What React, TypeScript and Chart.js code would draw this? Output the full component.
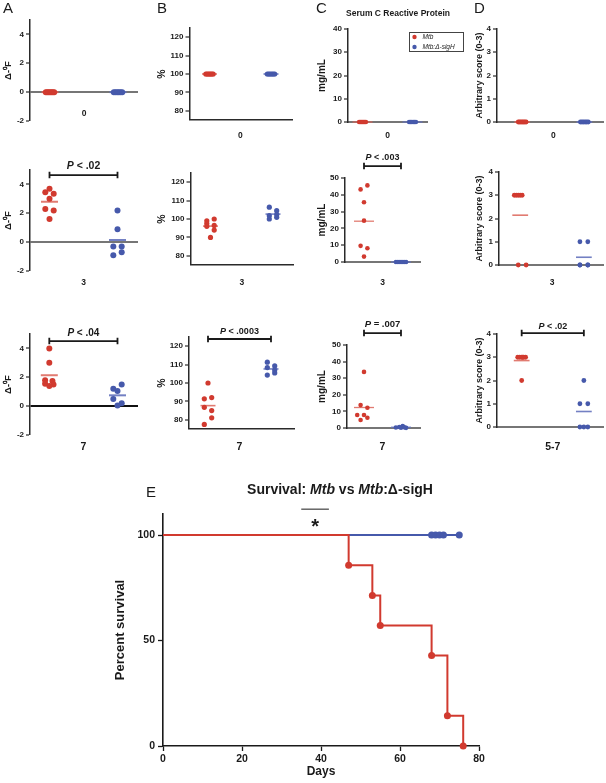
import React, { useEffect, useRef } from 'react';
import { Chart, registerables } from 'chart.js';

Chart.register(...registerables);

const FONT = '"Liberation Sans", Arial, Helvetica, sans-serif';
Chart.defaults.font.family = FONT;

const RED = '#d13a2f';
const BLUE = '#4659ab';
const RED_MEAN = 'rgba(220,100,88,0.85)';
const BLUE_MEAN = 'rgba(100,114,188,0.9)';
const INK = '#1a1a1a';
const AXIS = '#2a2a2a';
const BASE_GRAY = '#767676';

// ---------------- data ----------------
const groupNames = ['Mtb', 'Mtb:Δ-sigH'];
const dayLabels = ['0', '3', '7', '5-7'];

// A: change in body temperature (Δ°F)
const tempDay0Mtb = [0, 0, 0, 0, 0, 0, 0];
const tempDay0SigH = [0, 0, 0, 0, 0, 0];
const tempDay3Mtb = [3.7, 3.45, 3.35, 3.0, 2.3, 2.2, 1.6];
const tempDay3SigH = [2.2, 0.9, -0.3, -0.3, -0.7, -0.9];
const tempDay7Mtb = [4.0, 3.0, 1.8, 1.75, 1.55, 1.5, 1.4];
const tempDay7SigH = [1.5, 1.2, 1.05, 0.5, 0.2, 0.05];
const tempTicks = [-2, 0, 2, 4];

// B: body weight (%)
const wtDay0Mtb = [100, 100, 100, 100, 100, 100, 100];
const wtDay0SigH = [100, 100, 100, 100, 100, 100];
const wtDay3Mtb = [99, 100, 97.5, 96.5, 96, 94, 90];
const wtDay3SigH = [106.4, 104.5, 101.8, 102.4, 100, 100.9];
const wtDay7Mtb = [100, 92.1, 91.4, 86.8, 85, 81.1, 77.5];
const wtDay7SigH = [111.3, 109.3, 108.4, 107, 104.3, 105.5];
const wtTicks = [80, 90, 100, 110, 120];

// C: serum C reactive protein (mg/mL)
const crpDay0Mtb = [0, 0, 0, 0, 0, 0, 0];
const crpDay0SigH = [0, 0, 0, 0, 0, 0];
const crpDay3Mtb = [45.6, 43.2, 35.6, 24.6, 9.6, 8.2, 3.2];
const crpDay3SigH = [0, 0, 0, 0, 0, 0];
const crpDay7Mtb = [33.8, 13.8, 12.2, 7.8, 7.8, 6.2, 4.8];
const crpDay7SigH = [0.3, 1.2, 0.2, 0.6, 0.1, 0.4];
const crpTicks40 = [0, 10, 20, 30, 40];
const crpTicks50 = [0, 10, 20, 30, 40, 50];

// D: arbitrary score (0-3)
const scoreDay0Mtb = [0, 0, 0, 0, 0, 0, 0];
const scoreDay0SigH = [0, 0, 0, 0, 0, 0];
const scoreDay3Mtb = [3, 3, 3, 3, 3, 0, 0];
const scoreDay3SigH = [1, 1, 0, 0, 0, 0];
const scoreLateMtb = [3, 3, 3, 3, 3, 3, 2];
const scoreLateSigH = [2, 1, 1, 0, 0, 0];
const scoreTicks = [0, 1, 2, 3, 4];

// jitter slots (column scatter spread)
const slots7Zero = [-1, -0.67, -0.33, 0, 0.33, 0.67, 1];
const slots6Zero = [-1, -0.6, -0.2, 0.2, 0.6, 1];
const tempDay3MtbSlot = [0, -1, 1, 0, -1, 1, 0];
const tempDay3SigHSlot = [0, 0, -1, 1, 1, -1];
const tempDay7MtbSlot = [0, 0, -1, 0.75, -1, 1, 0];
const tempDay7SigHSlot = [1, -1, 0, -1, 1, 0];
const wtDay3MtbSlot = [-1, 1, -1, 1, -1, 1, 0];
const wtDay3SigHSlot = [-1, 1, -1, 1, -1, 1];
const wtDay7MtbSlot = [0, 1, -1, -1, 1, 1, -1];
const wtDay7SigHSlot = [-1, 1, -1, 1, -1, 1];
const crpDay3MtbSlot = [1, -1, 0, 0, -1, 1, 0];
const crpDay3SigHSlot = [-1.5, -0.9, -0.3, 0.3, 0.9, 1.5];
const crpDay7MtbSlot = [0, -1, 1, -2, 0, 1, -1];
const crpDay7SigHSlot = [-1.5, 0.5, 0, -0.5, 1.5, 1];
const scoreDay3MtbSlot = [-1.5, -1, -0.5, 0, 0.5, -0.5, 1.5];
const scoreDay3SigHSlot = [-1, 1, -1, 1, -1, 1];
const scoreLateMtbSlot = [-1, -0.5, 0, 0.5, 1, 0.25, 0];
const scoreLateSigHSlot = [0, -1, 1, -1, 0, 1];

// E: survival
const survMtbDays = [0, 47, 53, 55, 68, 72, 76];
const survMtbPct = [100, 85.7, 71.4, 57.1, 42.9, 14.3, 0];
const survSigHDays = [0, 68, 69, 70, 71, 75];
const survSigHPct = [100, 100, 100, 100, 100, 100];
const survXTicks = [0, 20, 40, 60, 80];
const survYTicks = [0, 50, 100];

// ---------------- layout ----------------
type Seg = [string, boolean];

interface PanelCfg {
  key: string;
  mtb: number[]; sig: number[]; mtbSlot: number[]; sigSlot: number[];
  yMin: number; yMax: number; yTicks: number[]; yTitle: string; label: string;
  pText?: string; pY?: number; pSize?: number; pOff?: number;
  cl: number; ct: number; cw: number; ch: number;
  al: number; at: number; ar: number; ab: number;
  rc: number; bc: number; labelY: number; labelSize: number;
  slotPx: number; r: number; meanHalf: number; meanW: number;
  base: 'grid' | 'axis'; baseColor: string; baseW: number;
  titleCx: number; titleSize: number;
  legend?: boolean; chartTitle?: string;
}

const colA = { cl: 0, cw: 145, titleCx: 8, titleSize: 9.5, yTitle: 'Δ-⁰F', slotPx: 4.2, r: 3, meanHalf: 8.5, meanW: 2 };
const colB = { cl: 148, cw: 150, titleCx: 162, titleSize: 10.5, yTitle: '%', slotPx: 3.7, r: 2.6, meanHalf: 7.5, meanW: 1.6 };
const colC = { cl: 305, cw: 165, titleCx: 322, titleSize: 10, yTitle: 'mg/mL', slotPx: 3.4, r: 2.3, meanHalf: 10, meanW: 1.3 };
const colD = { cl: 462, cw: 144, titleCx: 480, titleSize: 9, yTitle: 'Arbitrary score (0-3)', slotPx: 4, r: 2.4, meanHalf: 8, meanW: 1.6 };
const row1 = { ct: 0, ch: 148, labelSize: 8.5 };
const row2 = { ct: 148, ch: 150, labelSize: 8.5 };
const row3 = { ct: 300, ch: 155, labelSize: 10.5 };

const panels: PanelCfg[] = [
  { key: 'A1', ...colA, ...row1, mtb: tempDay0Mtb, sig: tempDay0SigH, mtbSlot: slots7Zero, sigSlot: slots6Zero,
    yMin: -2, yMax: 5, yTicks: tempTicks, label: dayLabels[0], al: 30, at: 20, ar: 138, ab: 121, rc: 50, bc: 118, labelY: 114,
    base: 'grid', baseColor: BASE_GRAY, baseW: 2 },
  { key: 'A2', ...colA, ...row2, mtb: tempDay3Mtb, sig: tempDay3SigH, mtbSlot: tempDay3MtbSlot, sigSlot: tempDay3SigHSlot,
    yMin: -2, yMax: 5, yTicks: tempTicks, label: dayLabels[1], al: 30, at: 170, ar: 138, ab: 271, rc: 49.5, bc: 117.5, labelY: 283,
    base: 'grid', baseColor: BASE_GRAY, baseW: 2, pText: ' < .02', pY: 4.65, pSize: 10.5, pOff: 8.5 },
  { key: 'A3', ...colA, ...row3, mtb: tempDay7Mtb, sig: tempDay7SigH, mtbSlot: tempDay7MtbSlot, sigSlot: tempDay7SigHSlot,
    yMin: -2, yMax: 5, yTicks: tempTicks, label: dayLabels[2], al: 30, at: 334, ar: 138, ab: 435, rc: 49.3, bc: 117.5, labelY: 447,
    base: 'grid', baseColor: '#111', baseW: 2, pText: ' < .04', pY: 4.51, pSize: 10, pOff: 8 },

  { key: 'B1', ...colB, ...row1, mtb: wtDay0Mtb, sig: wtDay0SigH, mtbSlot: slots7Zero, sigSlot: slots6Zero,
    yMin: 75, yMax: 125, yTicks: wtTicks, label: dayLabels[0], al: 189.5, at: 28, ar: 292, ab: 120, rc: 209.5, bc: 271, labelY: 135.5,
    base: 'axis', baseColor: AXIS, baseW: 1.5 },
  { key: 'B2', ...colB, ...row2, mtb: wtDay3Mtb, sig: wtDay3SigH, mtbSlot: wtDay3MtbSlot, sigSlot: wtDay3SigHSlot,
    yMin: 75, yMax: 125, yTicks: wtTicks, label: dayLabels[1], al: 190.5, at: 173, ar: 293, ab: 265, rc: 210.5, bc: 273, labelY: 283,
    base: 'axis', baseColor: AXIS, baseW: 1.5 },
  { key: 'B3', ...colB, ...row3, mtb: wtDay7Mtb, sig: wtDay7SigH, mtbSlot: wtDay7MtbSlot, sigSlot: wtDay7SigHSlot,
    yMin: 75, yMax: 125, yTicks: wtTicks, label: dayLabels[2], al: 189, at: 337, ar: 294, ab: 429, rc: 208, bc: 271, labelY: 447,
    base: 'axis', baseColor: AXIS, baseW: 1.5, pText: ' < .0003', pY: 123.9, pSize: 9, pOff: 8 },

  { key: 'C1', ...colC, ...row1, mtb: crpDay0Mtb, sig: crpDay0SigH, mtbSlot: slots7Zero, sigSlot: slots6Zero,
    yMin: 0, yMax: 40, yTicks: crpTicks40, label: dayLabels[0], al: 348, at: 29, ar: 427, ab: 122, rc: 362.5, bc: 412.5, labelY: 135.5,
    base: 'axis', baseColor: BASE_GRAY, baseW: 2, legend: true, chartTitle: 'Serum C Reactive Protein' },
  { key: 'C2', ...colC, ...row2, mtb: crpDay3Mtb, sig: crpDay3SigH, mtbSlot: crpDay3MtbSlot, sigSlot: crpDay3SigHSlot,
    yMin: 0, yMax: 50, yTicks: crpTicks50, label: dayLabels[1], al: 345, at: 178, ar: 420, ab: 262, rc: 364, bc: 401, labelY: 283,
    base: 'axis', baseColor: BASE_GRAY, baseW: 2, pText: ' < .003', pY: 57.1, pSize: 9, pOff: 9 },
  { key: 'C3', ...colC, ...row3, mtb: crpDay7Mtb, sig: crpDay7SigH, mtbSlot: crpDay7MtbSlot, sigSlot: crpDay7SigHSlot,
    yMin: 0, yMax: 50, yTicks: crpTicks50, label: dayLabels[2], al: 347, at: 345, ar: 420, ab: 428, rc: 364, bc: 401, labelY: 447,
    base: 'axis', baseColor: BASE_GRAY, baseW: 2, pText: ' = .007', pY: 57.2, pSize: 9.5, pOff: 9 },

  { key: 'D1', ...colD, ...row1, mtb: scoreDay0Mtb, sig: scoreDay0SigH, mtbSlot: slots7Zero, sigSlot: slots6Zero,
    yMin: 0, yMax: 4, yTicks: scoreTicks, label: dayLabels[0], al: 497, at: 29, ar: 605, ab: 122, rc: 522.5, bc: 585.5, labelY: 135.5,
    base: 'axis', baseColor: BASE_GRAY, baseW: 2 },
  { key: 'D2', ...colD, ...row2, mtb: scoreDay3Mtb, sig: scoreDay3SigH, mtbSlot: scoreDay3MtbSlot, sigSlot: scoreDay3SigHSlot,
    yMin: 0, yMax: 4, yTicks: scoreTicks, label: dayLabels[1], al: 499, at: 172, ar: 605, ab: 265, rc: 520.5, bc: 585, labelY: 283,
    base: 'axis', baseColor: BASE_GRAY, baseW: 2 },
  { key: 'D3', ...colD, ...row3, mtb: scoreLateMtb, sig: scoreLateSigH, mtbSlot: scoreLateMtbSlot, sigSlot: scoreLateSigHSlot,
    yMin: 0, yMax: 4, yTicks: scoreTicks, label: dayLabels[3], al: 497, at: 334, ar: 605, ab: 427, rc: 522, bc: 585, labelY: 447,
    base: 'axis', baseColor: BASE_GRAY, baseW: 2, pText: ' < .02', pY: 4.04, pSize: 9, pOff: 6.5 },
];

function drawSegs(ctx: CanvasRenderingContext2D, segs: Seg[], cx: number, cy: number, size: number, color = INK) {
  const fontOf = (it: boolean) => `${it ? 'italic ' : ''}bold ${size}px ${FONT}`;
  let total = 0;
  const widths = segs.map(([t, it]) => {
    ctx.font = fontOf(it);
    const w = ctx.measureText(t).width;
    total += w;
    return w;
  });
  let x = cx - total / 2;
  ctx.fillStyle = color;
  ctx.textAlign = 'left';
  ctx.textBaseline = 'middle';
  segs.forEach(([t, it], i) => {
    ctx.font = fontOf(it);
    ctx.fillText(t, x, cy);
    x += widths[i];
  });
}

const mean = (a: number[]) => a.reduce((s, v) => s + v, 0) / a.length;

function ScatterPanel({ cfg }: { cfg: PanelCfg }) {
  const ref = useRef<HTMLCanvasElement>(null);
  useEffect(() => {
    const canvas = ref.current!;
    const ppu = cfg.bc - cfg.rc;
    const xMin = 1 - (cfg.rc - cfg.al) / ppu;
    const xMax = 2 + (cfg.ar - cfg.bc) / ppu;
    const jx = (base: number, slot: number) => base + (slot * cfg.slotPx) / ppu;
    const mtbPts = cfg.mtb.map((v, i) => ({ x: jx(1, cfg.mtbSlot[i] ?? 0), y: v }));
    const sigPts = cfg.sig.map((v, i) => ({ x: jx(2, cfg.sigSlot[i] ?? 0), y: v }));
    const hw = cfg.meanHalf / ppu;
    const mM = mean(cfg.mtb);
    const mS = mean(cfg.sig);
    const yW = cfg.al - cfg.cl;
    const xH = cfg.ct + cfg.ch - cfg.ab;
    const titleLh = cfg.titleSize * 1.2;
    const titlePad = cfg.titleCx - cfg.cl - titleLh / 2;

    const decor = {
      id: 'decor' + cfg.key,
      afterDraw(chart: any) {
        const { ctx } = chart;
        const x = chart.scales.x;
        const y = chart.scales.y;
        ctx.save();
        // category label
        ctx.fillStyle = INK;
        ctx.font = `bold ${cfg.labelSize}px ${FONT}`;
        ctx.textAlign = 'center';
        ctx.textBaseline = 'middle';
        ctx.fillText(cfg.label, x.getPixelForValue(1.5), cfg.labelY - cfg.ct);
        // significance bar
        if (cfg.pText && cfg.pY !== undefined) {
          const x1 = x.getPixelForValue(1);
          const x2 = x.getPixelForValue(2);
          const yb = y.getPixelForValue(cfg.pY);
          ctx.strokeStyle = INK;
          ctx.lineWidth = 1.8;
          ctx.beginPath();
          ctx.moveTo(x1, yb);
          ctx.lineTo(x2, yb);
          ctx.moveTo(x1, yb - 3.2);
          ctx.lineTo(x1, yb + 3.2);
          ctx.moveTo(x2, yb - 3.2);
          ctx.lineTo(x2, yb + 3.2);
          ctx.stroke();
          drawSegs(ctx, [['P', true], [cfg.pText, false]], (x1 + x2) / 2, yb - (cfg.pOff ?? 8), cfg.pSize ?? 10);
        }
        if (cfg.chartTitle) {
          ctx.fillStyle = INK;
          ctx.font = `bold 8.5px ${FONT}`;
          ctx.textAlign = 'center';
          ctx.textBaseline = 'middle';
          ctx.fillText(cfg.chartTitle, 398 - cfg.cl, 13.5 - cfg.ct);
        }
        if (cfg.legend) {
          const bx = 409.5 - cfg.cl, by = 32.5 - cfg.ct;
          ctx.fillStyle = '#fff';
          ctx.fillRect(bx, by, 54, 19);
          ctx.strokeStyle = '#444';
          ctx.lineWidth = 1;
          ctx.strokeRect(bx, by, 54, 19);
          chart.data.datasets.slice(0, 2).forEach((ds: any, i: number) => {
            const cy = by + 4.5 + i * 10;
            ctx.fillStyle = ds.pointBackgroundColor;
            ctx.beginPath();
            ctx.arc(bx + 5, cy, 2.2, 0, Math.PI * 2);
            ctx.fill();
            ctx.fillStyle = INK;
            ctx.font = `italic 6.5px ${FONT}`;
            ctx.textAlign = 'left';
            ctx.textBaseline = 'middle';
            ctx.fillText(ds.label, bx + 13, cy);
          });
        }
        ctx.restore();
      },
    };

    const chart = new Chart(canvas, {
      type: 'scatter',
      data: {
        datasets: [
          { label: groupNames[0], data: mtbPts, pointRadius: cfg.r, pointHoverRadius: cfg.r, pointBackgroundColor: RED, pointBorderWidth: 0, backgroundColor: RED, borderColor: RED, clip: false } as any,
          { label: groupNames[1], data: sigPts, pointRadius: cfg.r, pointHoverRadius: cfg.r, pointBackgroundColor: BLUE, pointBorderWidth: 0, backgroundColor: BLUE, borderColor: BLUE, clip: false } as any,
          { label: 'mean ' + groupNames[0], data: [{ x: 1 - hw, y: mM }, { x: 1 + hw, y: mM }], showLine: true, borderColor: RED_MEAN, borderWidth: cfg.meanW, pointRadius: 0, clip: false } as any,
          { label: 'mean ' + groupNames[1], data: [{ x: 2 - hw, y: mS }, { x: 2 + hw, y: mS }], showLine: true, borderColor: BLUE_MEAN, borderWidth: cfg.meanW, pointRadius: 0, clip: false } as any,
        ],
      },
      options: {
        animation: false,
        responsive: false,
        maintainAspectRatio: false,
        events: [],
        layout: { padding: { left: 0, top: cfg.at - cfg.ct, right: cfg.cl + cfg.cw - cfg.ar, bottom: 0 } },
        plugins: { legend: { display: false }, tooltip: { enabled: false }, title: { display: false } },
        scales: {
          x: {
            type: 'linear',
            min: xMin,
            max: xMax,
            grid: { display: false },
            ticks: { display: false },
            border: { display: cfg.base === 'axis', color: cfg.baseColor, width: cfg.baseW },
            afterFit: (s: any) => {
              s.height = xH;
              s.paddingLeft = 0; s.paddingRight = 0; s.paddingTop = 0; s.paddingBottom = 0;
            },
          },
          y: {
            type: 'linear',
            min: cfg.yMin,
            max: cfg.yMax,
            afterBuildTicks: (s: any) => { s.ticks = cfg.yTicks.map((v) => ({ value: v })); },
            ticks: { font: { family: FONT, size: 8, weight: 'bold' }, color: INK, padding: 2, callback: (v: any) => String(v) },
            grid: {
              display: true,
              drawOnChartArea: cfg.base === 'grid',
              drawTicks: true,
              tickLength: 4,
              tickColor: AXIS,
              tickWidth: 1.2,
              color: (c: any) => (c.tick && c.tick.value === 0 ? cfg.baseColor : 'rgba(0,0,0,0)'),
              lineWidth: (c: any) => (c.tick && c.tick.value === 0 ? cfg.baseW : 0),
            },
            border: { display: true, color: AXIS, width: 1.5 },
            title: { display: true, text: cfg.yTitle, color: INK, font: { family: FONT, size: cfg.titleSize, weight: 'bold' }, padding: { top: titlePad, bottom: 0 } },
            afterFit: (s: any) => {
              s.width = yW;
              s.paddingTop = 0; s.paddingBottom = 0; s.paddingLeft = 0; s.paddingRight = 0;
            },
          },
        },
      } as any,
      plugins: [decor],
    });
    return () => chart.destroy();
  }, [cfg]);
  return (
    <canvas
      ref={ref}
      width={cfg.cw}
      height={cfg.ch}
      style={{ position: 'absolute', left: cfg.cl, top: cfg.ct, width: cfg.cw, height: cfg.ch }}
    />
  );
}

const survTitle: Seg[] = [['Survival: ', false], ['Mtb', true], [' vs ', false], ['Mtb', true], [':Δ-sigH', false]];
const survSigDays = [35, 42];
const survSigLevel = 112.3;
const survStarLevel = 106;

function SurvivalPanel() {
  const ref = useRef<HTMLCanvasElement>(null);
  useEffect(() => {
    const L = { cl: 90, ct: 478, cw: 440, ch: 305, al: 163, at: 514, ar: 479, ab: 746 };
    const mtbPts = survMtbDays.map((d, i) => ({ x: d, y: survMtbPct[i] }));
    const sigPts = survSigHDays.map((d, i) => ({ x: d, y: survSigHPct[i] }));
    const yTitleSize = 13;
    const decor = {
      id: 'survDecor',
      afterDraw(chart: any) {
        const { ctx } = chart;
        const x = chart.scales.x;
        const y = chart.scales.y;
        ctx.save();
        drawSegs(ctx, survTitle, 340 - L.cl, 490 - L.ct, 14);
        const yl = y.getPixelForValue(survSigLevel);
        ctx.strokeStyle = INK;
        ctx.lineWidth = 1;
        ctx.beginPath();
        ctx.moveTo(x.getPixelForValue(survSigDays[0]), yl);
        ctx.lineTo(x.getPixelForValue(survSigDays[1]), yl);
        ctx.stroke();
        ctx.fillStyle = INK;
        ctx.font = `bold 20px ${FONT}`;
        ctx.textAlign = 'center';
        ctx.textBaseline = 'alphabetic';
        const sx = x.getPixelForValue((survSigDays[0] + survSigDays[1]) / 2);
        ctx.fillText('*', sx, y.getPixelForValue(survStarLevel) + 11);
        ctx.restore();
      },
    };
    const chart = new Chart(ref.current!, {
      type: 'line',
      data: {
        datasets: [
          { label: groupNames[0], data: mtbPts, stepped: 'before', borderColor: RED, borderWidth: 2, pointBackgroundColor: RED, pointBorderWidth: 0,
            pointRadius: (c: any) => (c.dataIndex === 0 ? 0 : 3.5), clip: false } as any,
          { label: groupNames[1], data: sigPts, stepped: 'before', borderColor: BLUE, borderWidth: 2, pointBackgroundColor: BLUE, pointBorderWidth: 0,
            pointRadius: (c: any) => (c.dataIndex === 0 ? 0 : 3.5), clip: false } as any,
        ],
      },
      options: {
        animation: false,
        responsive: false,
        maintainAspectRatio: false,
        events: [],
        layout: { padding: { left: 0, top: L.at - L.ct, right: L.cl + L.cw - L.ar, bottom: 0 } },
        plugins: { legend: { display: false }, tooltip: { enabled: false } },
        scales: {
          x: {
            type: 'linear', min: 0, max: 80,
            afterBuildTicks: (s: any) => { s.ticks = survXTicks.map((v) => ({ value: v })); },
            ticks: { font: { family: FONT, size: 10.5, weight: 'bold' }, color: INK, padding: 2, maxRotation: 0, callback: (v: any) => String(v) },
            grid: { display: true, drawOnChartArea: false, tickLength: 5, tickColor: INK, tickWidth: 1.3 },
            border: { display: true, color: INK, width: 1.6 },
            title: { display: true, text: 'Days', color: INK, font: { family: FONT, size: 12, weight: 'bold' }, padding: { top: 0, bottom: 3.8 } },
            afterFit: (s: any) => { s.height = L.ct + L.ch - L.ab; s.paddingLeft = 0; s.paddingRight = 0; },
          },
          y: {
            type: 'linear', min: 0, max: 110,
            afterBuildTicks: (s: any) => { s.ticks = survYTicks.map((v) => ({ value: v })); },
            ticks: { font: { family: FONT, size: 10.5, weight: 'bold' }, color: INK, padding: 3, callback: (v: any) => String(v) },
            grid: { display: true, drawOnChartArea: false, tickLength: 5, tickColor: INK, tickWidth: 1.3 },
            border: { display: true, color: INK, width: 1.6 },
            title: { display: true, text: 'Percent survival', color: INK, font: { family: FONT, size: yTitleSize, weight: 'bold' },
              padding: { top: 120 - L.cl - (yTitleSize * 1.2) / 2, bottom: 0 } },
            afterFit: (s: any) => { s.width = L.al - L.cl; s.paddingTop = 0; s.paddingBottom = 0; },
          },
        },
      } as any,
      plugins: [decor],
    });
    return () => chart.destroy();
  }, []);
  return (
    <canvas ref={ref} width={440} height={305} style={{ position: 'absolute', left: 90, top: 478, width: 440, height: 305 }} />
  );
}

const panelLetters = [
  { t: 'A', x: 3, y: 0 },
  { t: 'B', x: 157, y: 0 },
  { t: 'C', x: 316, y: 0 },
  { t: 'D', x: 474, y: 0 },
  { t: 'E', x: 146, y: 484 },
];

export default function App() {
  return (
    <div style={{ position: 'absolute', left: 0, top: 0, width: 606, height: 783, background: '#fff', overflow: 'hidden' }}>
      {panels.map((p) => (
        <ScatterPanel key={p.key} cfg={p} />
      ))}
      <SurvivalPanel />
      {panelLetters.map((l) => (
        <div
          key={l.t}
          style={{ position: 'absolute', left: l.x, top: l.y, fontFamily: FONT, fontSize: 15, lineHeight: '15px', color: INK }}
        >
          {l.t}
        </div>
      ))}
    </div>
  );
}
